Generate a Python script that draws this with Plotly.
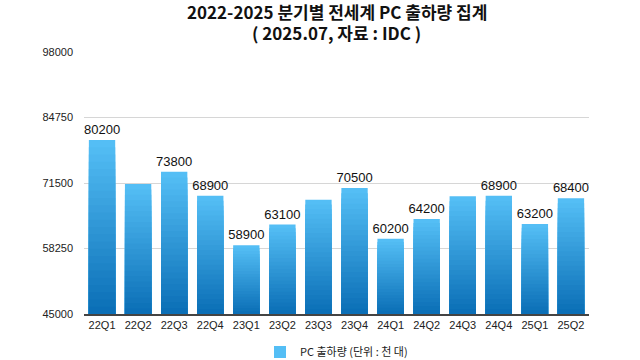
import plotly.graph_objects as go

categories = ["22Q1", "22Q2", "22Q3", "22Q4", "23Q1", "23Q2", "23Q3", "23Q4",
              "24Q1", "24Q2", "24Q3", "24Q4", "25Q1", "25Q2"]
shipments = [80200, 71300, 73800, 68900, 58900, 63100, 68100, 70500,
             60200, 64200, 68800, 68900, 63200, 68400]
labels = ["80200", "", "73800", "68900", "58900", "63100", "", "70500",
          "60200", "64200", "", "68900", "63200", "68400"]
y_ticks = [45000, 58250, 71500, 84750, 98000]
title_line1 = "2022-2025 분기별 전세계 PC 출하량 집계"
title_line2 = "( 2025.07, 자료 : IDC )"

base = 45000
top_rgb = (84, 190, 245)
bot_rgb = (8, 108, 180)
steps = 24

fig = go.Figure()
for k in range(steps):
    f = k / steps
    c = tuple(int(round(top_rgb[i] + (bot_rgb[i] - top_rgb[i]) * f)) for i in range(3))
    ys = [base + (v - base) * (1 - f) for v in shipments]
    fig.add_trace(go.Bar(
        x=categories, y=ys,
        marker=dict(color="rgb(%d,%d,%d)" % c, line=dict(width=0)),
        text=labels if k == 0 else None,
        textposition="outside" if k == 0 else "none",
        constraintext="none",
        textfont=dict(family="Liberation Sans, Arial", size=13, color="#111"),
        cliponaxis=False,
        name="PC 출하량 (단위 : 천 대)",
        showlegend=(k == 0),
        hoverinfo="skip",
    ))

title_font = dict(family="Noto Sans CJK KR", size=17, color="#111")
fig.add_annotation(text="<b>%s</b>" % title_line1, xref="paper", yref="paper",
                   x=0.5, y=1 + (52 - 12) / 262, xanchor="center", yanchor="middle",
                   showarrow=False, font=title_font)
fig.add_annotation(text="<b>%s</b>" % title_line2, xref="paper", yref="paper",
                   x=0.5, y=1 + (52 - 32) / 262, xanchor="center", yanchor="middle",
                   showarrow=False, font=title_font)

fig.update_layout(
    width=640, height=360,
    barmode="overlay",
    bargap=0.27,
    plot_bgcolor="white", paper_bgcolor="white",
    margin=dict(l=84, r=51, t=52, b=46, autoexpand=False),
    legend=dict(orientation="h", x=0.5, xanchor="center", y=0.022, yanchor="middle",
                yref="container",
                font=dict(family="Noto Sans CJK KR", size=11, color="#222")),
    font=dict(family="Liberation Sans, Arial", size=11, color="#222"),
)
fig.update_xaxes(showline=True, linecolor="#444", linewidth=1.5, showgrid=False,
                 ticks="", tickfont=dict(size=11, color="#222"))
fig.update_yaxes(range=[base, 98000], tickvals=y_ticks, ticktext=[str(t) for t in y_ticks],
                 showgrid=True, gridcolor="#d6d6d6", gridwidth=1, zeroline=False,
                 ticklabelstandoff=10, tickfont=dict(size=11, color="#222"))

fig.write_html("out.html", config={"displayModeBar": False},
               post_script="document.body.style.margin='0';")
